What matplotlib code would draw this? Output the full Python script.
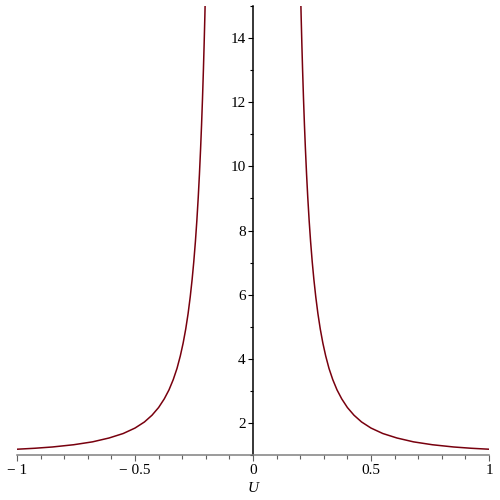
import numpy as np
import matplotlib.pyplot as plt
from matplotlib.ticker import MultipleLocator, FixedLocator

# values (right branch; left branch is its mirror)
u_right = [0.195, 0.198, 0.201, 0.204, 0.207, 0.210, 0.214, 0.218, 0.222,
           0.227, 0.232, 0.238, 0.244, 0.251, 0.258, 0.266, 0.275, 0.285,
           0.296, 0.308, 0.322, 0.338, 0.356, 0.376, 0.400, 0.428, 0.460,
           0.500, 0.550, 0.610, 0.680, 0.760, 0.850, 0.925, 1.000]
y_right = [17.87, 16.69, 15.63, 14.68, 13.82, 13.04, 12.11, 11.29, 10.56,
           9.75, 9.04, 8.30, 7.66, 7.02, 6.47, 5.93, 5.41, 4.93,
           4.49, 4.09, 3.70, 3.35, 3.03, 2.75, 2.48, 2.24, 2.03,
           1.84, 1.67, 1.53, 1.41, 1.32, 1.25, 1.21, 1.18]
u_left = [-u for u in u_right]
y_left = list(y_right)

x_ticks = [-1, -0.5, 0, 0.5, 1]
x_tick_labels = ['\u2212 1', '\u2212 0.5', '0', '0.5', '1']
y_ticks = [2, 4, 6, 8, 10, 12, 14]

curve_color = '#78000E'

plt.rcParams['font.family'] = ['Liberation Serif', 'DejaVu Serif']

fig = plt.figure(figsize=(5, 5), dpi=100)
ax = fig.add_axes([0.034, 0.09, 0.944, 0.898])

ax.plot(u_left, y_left, color=curve_color, linewidth=1.1)
ax.plot(u_right, y_right, color=curve_color, linewidth=1.1)

ax.set_xlim(-1, 1)
ax.set_ylim(1, 15)

# Maple style axes: vertical axis through U = 0
ax.spines['top'].set_visible(False)
ax.spines['right'].set_visible(False)
ax.spines['left'].set_position(('data', 0))
ax.spines['left'].set_color('black')
ax.spines['left'].set_linewidth(1.1)
ax.spines['bottom'].set_color('#808080')
ax.spines['bottom'].set_linewidth(1.1)

ax.xaxis.set_major_locator(FixedLocator(x_ticks))
ax.set_xticklabels(x_tick_labels)
ax.xaxis.set_minor_locator(MultipleLocator(0.1))
ax.yaxis.set_major_locator(FixedLocator(y_ticks))
ax.yaxis.set_minor_locator(MultipleLocator(1))

ax.tick_params(axis='x', which='major', length=4.3, width=0.8, color='#606060',
               labelsize=11, pad=2.5)
ax.tick_params(axis='x', which='minor', length=2.9, width=0.8, color='#606060')
ax.tick_params(axis='y', which='major', length=3.8, width=0.8, color='black',
               labelsize=11, pad=1.5)
ax.tick_params(axis='y', which='minor', length=2.4, width=0.8, color='black')

ax.set_xlabel('U', fontstyle='italic', fontsize=11, labelpad=3)

fig.savefig('out.png', dpi=100)
